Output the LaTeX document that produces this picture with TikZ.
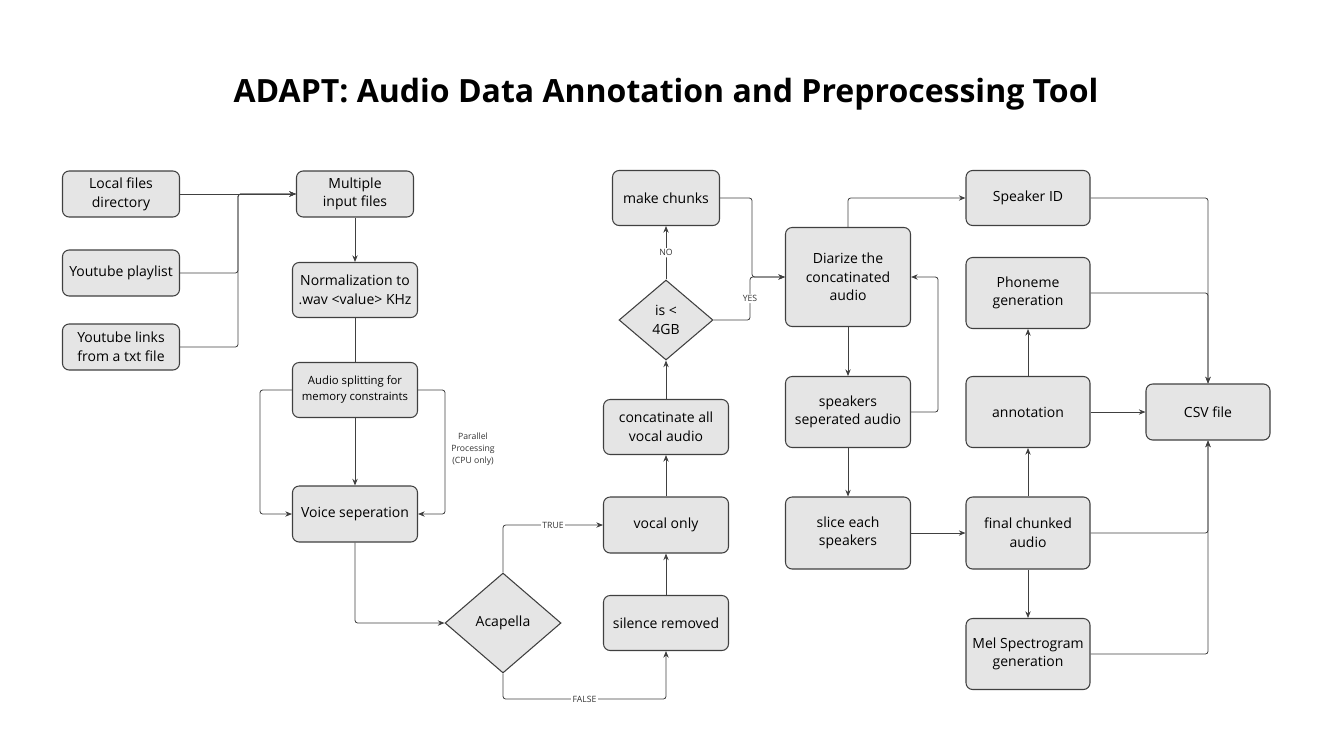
\documentclass[tikz,border=0pt]{standalone}
\usepackage{fontspec}
\setmainfont{Open Sans}
\usetikzlibrary{shapes.geometric,arrows.meta}
\begin{document}
\begin{tikzpicture}[x=0.75pt,y=-0.75pt,
	box/.style = {draw=black!75, fill=black!10, rounded corners=5pt, line width=0.8pt, align=center, font=\fontsize{10.5}{14}\selectfont, inner sep=0pt},
	dia/.style = {draw=black!75, fill=black!10, diamond, line width=0.8pt, align=center, font=\fontsize{10.5}{14}\selectfont, inner sep=0pt},
	link/.style = {draw=black!75, line width=0.6pt, rounded corners=2pt, -{Stealth[length=5pt,width=4pt]}},
	tag/.style = {font=\fontsize{6.5}{9}\selectfont, fill=white, inner sep=1pt, text=black!80}]
		\useasboundingbox (0,0) rectangle (1333,750);
		\node[font=\bfseries\fontsize{24}{30}\selectfont] (title) at (666,94) {ADAPT: Audio Data Annotation and Preprocessing Tool};
		
		\node[box, minimum width=117*0.75, minimum height=46*0.75] (local) at (121,194) {Local files\\directory};
		\node[box, minimum width=117*0.75, minimum height=46*0.75] (ytpl) at (121,273) {Youtube playlist};
		\node[box, minimum width=117*0.75, minimum height=46*0.75] (ytlinks) at (121,347) {Youtube links\\from a txt file};
		\node[box, minimum width=117*0.75, minimum height=46*0.75] (multi) at (355,194) {Multiple\\input files};
		\node[box, minimum width=125*0.75, minimum height=55*0.75] (norm) at (355,290) {Normalization to\\.wav <value> KHz};
		\node[box, minimum width=125*0.75, minimum height=55*0.75, font=\fontsize{8.5}{12}\selectfont] (split) at (355,390) {Audio splitting for\\memory constraints};
		\node[box, minimum width=125*0.75, minimum height=56*0.75] (voice) at (355,514) {Voice seperation};
		\node[dia, minimum width=116*0.75, minimum height=100*0.75] (acap) at (503,623) {Acapella};
		\node[box, minimum width=125*0.75, minimum height=55*0.75] (silence) at (666,623) {silence removed};
		\node[box, minimum width=125*0.75, minimum height=56*0.75] (vocal) at (666,525) {vocal only};
		\node[box, minimum width=125*0.75, minimum height=55*0.75] (concat) at (666,427) {concatinate all\\vocal audio};
		\node[dia, minimum width=94*0.75, minimum height=80*0.75] (size) at (666,320) {is <\\4GB};
		\node[box, minimum width=107*0.75, minimum height=55*0.75] (chunks) at (666,198) {make chunks};
		\node[box, minimum width=125*0.75, minimum height=99*0.75] (diarize) at (848,277) {Diarize the\\concatinated\\audio};
		\node[box, minimum width=125*0.75, minimum height=71*0.75] (speakers) at (848,412) {speakers\\seperated audio};
		\node[box, minimum width=125*0.75, minimum height=72*0.75] (slice) at (848,533) {slice each\\speakers};
		\node[box, minimum width=124*0.75, minimum height=55*0.75] (spkid) at (1028,198) {Speaker ID};
		\node[box, minimum width=124*0.75, minimum height=71*0.75] (phoneme) at (1028,293) {Phoneme\\generation};
		\node[box, minimum width=124*0.75, minimum height=71*0.75] (annot) at (1028,412) {annotation};
		\node[box, minimum width=124*0.75, minimum height=72*0.75] (final) at (1028,533) {final chunked\\audio};
		\node[box, minimum width=124*0.75, minimum height=71*0.75] (mel) at (1028,654) {Mel Spectrogram\\generation};
		\node[box, minimum width=124*0.75, minimum height=56*0.75] (csv) at (1208,412) {CSV file};
		
		% inputs
		\draw[link] (local) -- (multi);
		\draw[link] (ytpl.east) -- (238,273) -- (238,194) -- (multi.west);
		\draw[link] (ytlinks.east) -- (238,347) -- (238,194) -- (multi.west);
		\draw[link] (multi) -- (norm);
		\draw[link, -] (norm) -- (split);
		\draw[link] (split) -- (voice);
		\draw[link] (split.west) -- (260,390) -- (260,514) -- (voice.west);
		\draw[link] (split.east) -- (445,390) -- (445,514) -- (voice.east);
		\node[tag, align=center, fill=none] (para) at (473,449) {Parallel\\Processing\\(CPU only)};
		
		% vocal branch
		\draw[link] (voice.south) -- (355,623) -- (acap.west);
		\draw[link] (acap.north) -- (503,525) -- node[tag] {TRUE} (vocal.west);
		\draw[link] (acap.south) -- (503,699) -- node[tag] {FALSE} (666,699) -- (silence.south);
		\draw[link] (silence) -- (vocal);
		\draw[link] (vocal) -- (concat);
		\draw[link] (concat) -- (size);
		\draw[link] (size) -- node[tag] {NO} (chunks);
		\draw[link] (size.east) -- (750,320) -- node[tag] {YES} (750,277) -- (diarize.west);
		\draw[link] (chunks.east) -- (752,198) -- (752,277) -- (diarize.west);
		
		% speakers
		\draw[link] (diarize.north) -- (848,198) -- (spkid.west);
		\draw[link] (diarize) -- (speakers);
		\draw[link] (speakers.east) -- (938,412) -- (938,277) -- (diarize.east);
		\draw[link] (speakers) -- (slice);
		\draw[link] (slice) -- (final);
		\draw[link] (final) -- (annot);
		\draw[link] (annot) -- (phoneme);
		\draw[link] (final) -- (mel);
		
		% outputs
		\draw[link] (spkid.east) -- (1208,198) -- (csv.north);
		\draw[link] (phoneme.east) -- (1208,293) -- (csv.north);
		\draw[link] (annot) -- (csv);
		\draw[link] (final.east) -- (1208,533) -- (csv.south);
		\draw[link] (mel.east) -- (1208,654) -- (csv.south);
	\end{tikzpicture}
\end{document}
